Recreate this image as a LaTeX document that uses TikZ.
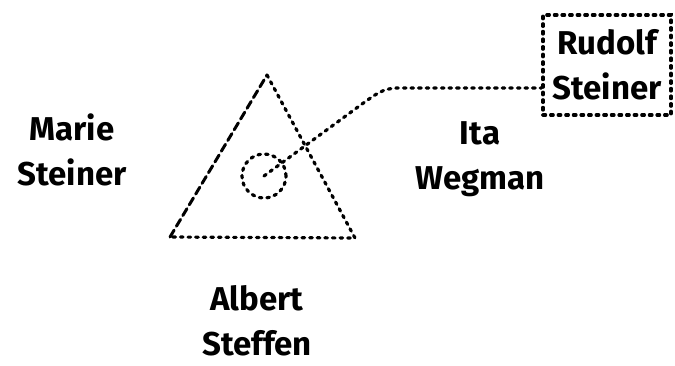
\documentclass[tikz,border=0pt]{standalone}
\usepackage{fontspec}
\setmainfont{Fira Sans}
\usetikzlibrary{positioning}

\tikzset{
  hand/.style={font=\fontsize{33}{45}\selectfont\bfseries,align=center,inner sep=0pt},
  dots/.style={line width=3.2pt,line cap=round,dash pattern=on 2.6pt off 5pt},
  longdash/.style={line width=3pt,line cap=round,dash pattern=on 8pt off 4.5pt},
}

\begin{document}
\begin{tikzpicture}[x=1pt,y=-1pt]
\useasboundingbox (0,0) rectangle (675,365);
% triangle
\coordinate (apex) at (267,75);
\coordinate (bl) at (170,237);
\coordinate (br) at (355,238);
\draw[longdash] (bl) -- (apex);
\draw[dots] (apex) -- (br) -- (bl);
% inner circle
\node[draw,circle,dots,minimum size=44pt,inner sep=0pt] (ring) at (264,176) {};
% box
\node[draw,dots,minimum width=128pt,minimum height=100pt,hand] (rudolf) at (607,65) {Rudolf\\Steiner};
\coordinate (kink) at (362,104);
\coordinate (joint) at (398,88);
\coordinate (entry) at ([yshift=-23pt]rudolf.west);
\draw[dots] (ring.center) -- (kink) to[out=35,in=180] (joint) -- (entry);
% names
\node[hand] (marie) at (72,150) {Marie\\Steiner};
\node[hand] (ita) at (480,159) {Ita\\Wegman};
\node[hand] (albert) at (257,321) {Albert\\Steffen};
\end{tikzpicture}
\end{document}
